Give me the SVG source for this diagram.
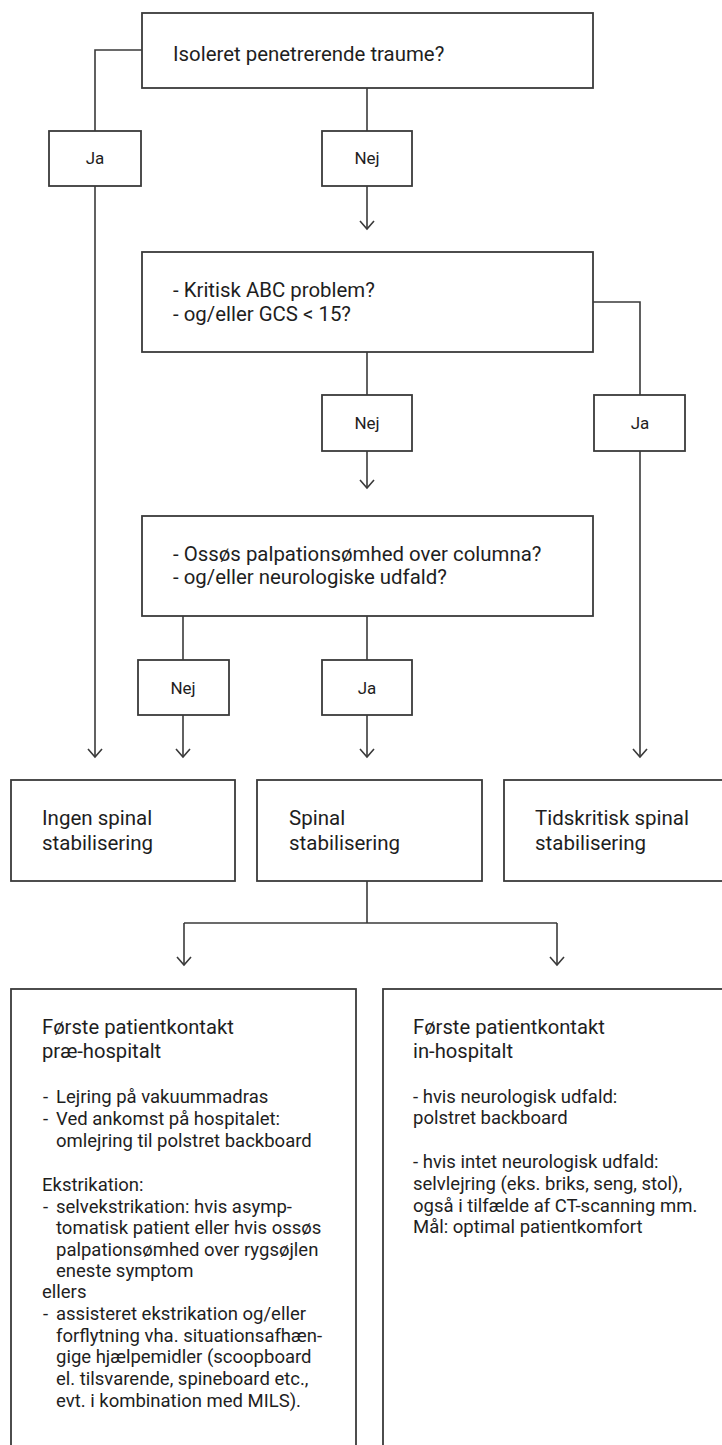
<svg xmlns="http://www.w3.org/2000/svg" width="722" height="1445" viewBox="0 0 722 1445">
<style>
.box{fill:#fff;stroke:#3a3a3a;stroke-width:1.8}
.ln{fill:none;stroke:#3a3a3a;stroke-width:1.6}
.arr{marker-end:url(#ah)}
text{font-family:Roboto,"Liberation Sans",sans-serif;fill:#1e1e1e}
.q{font-size:20.4px}
.lab{font-size:17px;text-anchor:middle}
.res{font-size:20.5px}
.hd{font-size:20.2px}
.bd{font-size:18.5px}
</style>
<defs>
<marker id="ah" markerUnits="userSpaceOnUse" viewBox="-10 -10 20 20" markerWidth="20" markerHeight="20" refX="0" refY="0" orient="auto" overflow="visible">
<path d="M-8,-7 L0,0 L-8,7" fill="none" stroke="#3a3a3a" stroke-width="1.6"/>
</marker>
</defs>
<rect width="722" height="1445" fill="#fff"/>
<g id="connectors">
<polyline class="ln" points="142,50 95,50 95,131"/>
<line class="ln arr" x1="95" y1="186" x2="95" y2="757"/>
<line class="ln" x1="367" y1="88" x2="367" y2="131"/>
<line class="ln arr" x1="367" y1="186" x2="367" y2="229"/>
<line class="ln" x1="367" y1="352" x2="367" y2="395"/>
<line class="ln arr" x1="367" y1="451" x2="367" y2="488"/>
<polyline class="ln" points="593,302 640,302 640,395"/>
<line class="ln arr" x1="640" y1="451" x2="640" y2="757"/>
<line class="ln" x1="183" y1="616" x2="183" y2="660"/>
<line class="ln arr" x1="183" y1="715" x2="183" y2="757"/>
<line class="ln" x1="367" y1="616" x2="367" y2="660"/>
<line class="ln arr" x1="367" y1="715" x2="367" y2="757"/>
<line class="ln" x1="367" y1="881" x2="367" y2="923"/>
<line class="ln" x1="184" y1="923" x2="557" y2="923"/>
<line class="ln arr" x1="184" y1="923" x2="184" y2="965"/>
<line class="ln arr" x1="557" y1="923" x2="557" y2="965"/>
</g>
<g id="q1">
<rect class="box" x="142" y="13" width="451" height="75"/>
<text class="q" x="173" y="61">Isoleret penetrerende traume?</text>
</g>
<g id="l1-ja">
<rect class="box" x="49" y="131" width="92" height="55"/>
<text class="lab" x="95" y="164">Ja</text>
</g>
<g id="l1-nej">
<rect class="box" x="322" y="131" width="90" height="55"/>
<text class="lab" x="367" y="164">Nej</text>
</g>
<g id="q2">
<rect class="box" x="142" y="252" width="451" height="100"/>
<text class="q" x="173" y="297">- Kritisk ABC problem?</text>
<text class="q" x="173" y="321">- og/eller GCS &lt; 15?</text>
</g>
<g id="l2-nej">
<rect class="box" x="322" y="395" width="90" height="56"/>
<text class="lab" x="367" y="429">Nej</text>
</g>
<g id="l2-ja">
<rect class="box" x="594" y="395" width="91" height="56"/>
<text class="lab" x="640" y="429">Ja</text>
</g>
<g id="q3">
<rect class="box" x="142" y="516" width="451" height="100"/>
<text class="q" x="173" y="561">- Ossøs palpationsømhed over columna?</text>
<text class="q" x="173" y="584">- og/eller neurologiske udfald?</text>
</g>
<g id="l3-nej">
<rect class="box" x="138" y="660" width="91" height="55"/>
<text class="lab" x="183" y="694">Nej</text>
</g>
<g id="l3-ja">
<rect class="box" x="322" y="660" width="90" height="55"/>
<text class="lab" x="367" y="694">Ja</text>
</g>
<g id="r-ingen">
<rect class="box" x="11" y="780" width="224" height="101"/>
<text class="res" x="42" y="825">Ingen spinal</text>
<text class="res" x="42" y="850">stabilisering</text>
</g>
<g id="r-spinal">
<rect class="box" x="257" y="780" width="225" height="101"/>
<text class="res" x="289" y="825">Spinal</text>
<text class="res" x="289" y="850">stabilisering</text>
</g>
<g id="r-tids">
<rect class="box" x="504" y="780" width="240" height="101"/>
<text class="res" x="535" y="825">Tidskritisk spinal</text>
<text class="res" x="535" y="850">stabilisering</text>
</g>
<g id="pre">
<rect class="box" x="11" y="989" width="345" height="480"/>
<text class="hd" x="42" y="1034">Første patientkontakt</text>
<text class="hd" x="42" y="1058">præ-hospitalt</text>
<text class="bd" y="1103"><tspan x="43">-</tspan><tspan x="56">Lejring på vakuummadras</tspan></text>
<text class="bd" y="1125"><tspan x="43">-</tspan><tspan x="56">Ved ankomst på hospitalet:</tspan></text>
<text class="bd" x="56" y="1147">omlejring til polstret backboard</text>
<text class="bd" x="42" y="1191">Ekstrikation:</text>
<text class="bd" y="1213"><tspan x="43">-</tspan><tspan x="56">selvekstrikation: hvis asymp-</tspan></text>
<text class="bd" x="56" y="1234">tomatisk patient eller hvis ossøs</text>
<text class="bd" x="56" y="1256">palpationsømhed over rygsøjlen</text>
<text class="bd" x="56" y="1277">eneste symptom</text>
<text class="bd" x="42" y="1298">ellers</text>
<text class="bd" y="1320"><tspan x="43">-</tspan><tspan x="56">assisteret ekstrikation og/eller</tspan></text>
<text class="bd" x="56" y="1342">forflytning vha. situationsafhæn-</text>
<text class="bd" x="56" y="1363">gige hjælpemidler (scoopboard</text>
<text class="bd" x="56" y="1385">el. tilsvarende, spineboard etc.,</text>
<text class="bd" x="56" y="1407">evt. i kombination med MILS).</text>
</g>
<g id="in">
<rect class="box" x="383" y="989" width="360" height="480"/>
<text class="hd" x="413" y="1034">Første patientkontakt</text>
<text class="hd" x="413" y="1058">in-hospitalt</text>
<text class="bd" x="413" y="1103">- hvis neurologisk udfald:</text>
<text class="bd" x="413" y="1124">polstret backboard</text>
<text class="bd" x="413" y="1168">- hvis intet neurologisk udfald:</text>
<text class="bd" x="413" y="1190">selvlejring (eks. briks, seng, stol),</text>
<text class="bd" x="413" y="1212">også i tilfælde af CT-scanning mm.</text>
<text class="bd" x="413" y="1233">Mål: optimal patientkomfort</text>
</g>
</svg>
